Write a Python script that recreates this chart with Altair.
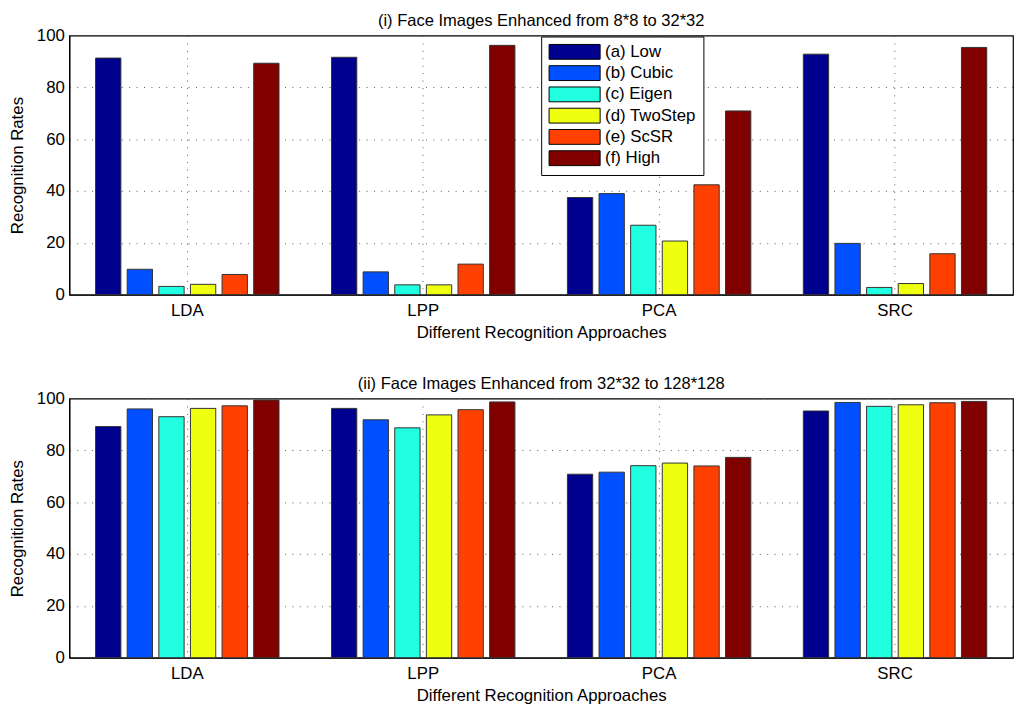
import altair as alt
import pandas as pd

approaches = ["LDA", "LPP", "PCA", "SRC"]
methods = ["(a) Low", "(b) Cubic", "(c) Eigen", "(d) TwoStep", "(e) ScSR", "(f) High"]
colors = ["#00008F", "#0050FF", "#20FFDF", "#EFFF10", "#FF4000", "#800000"]

# Panel (i): 8*8 -> 32*32, values per method over [LDA, LPP, PCA, SRC]
p1_low = [91.3, 91.6, 37.5, 92.8]
p1_cubic = [9.8, 8.8, 39.0, 19.8]
p1_eigen = [3.2, 3.8, 26.8, 2.8]
p1_twostep = [4.0, 3.8, 20.7, 4.3]
p1_scsr = [7.8, 11.8, 42.4, 15.8]
p1_high = [89.3, 96.2, 70.9, 95.4]

# Panel (ii): 32*32 -> 128*128
p2_low = [89.2, 96.2, 70.8, 95.2]
p2_cubic = [96.0, 91.8, 71.6, 98.5]
p2_eigen = [93.0, 88.7, 74.1, 97.0]
p2_twostep = [96.2, 93.7, 75.1, 97.6]
p2_scsr = [97.2, 95.7, 74.0, 98.4]
p2_high = [99.4, 98.7, 77.3, 98.9]

y_ticks = [0, 20, 40, 60, 80, 100]
title1 = "(i) Face Images Enhanced from 8*8 to 32*32"
title2 = "(ii) Face Images Enhanced from 32*32 to 128*128"

FONT = "Liberation Sans"
GRID = dict(gridDash=[1, 6.5], gridColor="#555555", gridOpacity=1, gridWidth=1)


def make_df(series):
    rows = []
    for m, vals in zip(methods, series):
        for a, v in zip(approaches, vals):
            rows.append({"approach": a, "method": m, "rate": v})
    return pd.DataFrame(rows)


def panel(series, title, show_legend):
    df = make_df(series)
    if show_legend:
        legend = alt.Legend(
            title=None,
            orient="none",
            legendX=477,
            legendY=1,
            symbolType="M-1,-1H5.88V1H-1Z",
            symbolSize=225,
            symbolStrokeColor="#000000",
            symbolStrokeWidth=1,
            symbolOpacity=1,
            labelFontSize=17,
            labelFont=FONT,
            labelColor="#000000",
            labelOffset=40.6,
            rowPadding=2.5,
            padding=7,
            strokeColor="#000000",
            fillColor="#FFFFFF",
            cornerRadius=0,
        )
    else:
        legend = None
    return (
        alt.Chart(df)
        .mark_bar(stroke="#333333", strokeWidth=1, opacity=1)
        .encode(
            x=alt.X(
                "approach:N",
                sort=approaches,
                scale=alt.Scale(paddingInner=0, paddingOuter=0),
                axis=alt.Axis(
                    title="Different Recognition Approaches",
                    labelAngle=0,
                    grid=True,
                    bandPosition=0.5,
                    ticks=False,
                    labelPadding=8,
                    titlePadding=6,
                    **GRID,
                ),
            ),
            xOffset=alt.XOffset(
                "method:N",
                sort=methods,
                scale=alt.Scale(paddingInner=0.2, paddingOuter=0.83),
            ),
            y=alt.Y(
                "rate:Q",
                scale=alt.Scale(domain=[0, 100], nice=False),
                axis=alt.Axis(
                    title="Recognition Rates",
                    values=y_ticks,
                    grid=True,
                    ticks=False,
                    labelPadding=5,
                    titlePadding=10,
                    **GRID,
                ),
            ),
            color=alt.Color(
                "method:N",
                sort=methods,
                scale=alt.Scale(domain=methods, range=colors),
                legend=legend,
            ),
        )
        .properties(
            width=954,
            height=262,
            title=alt.TitleParams(
                title, fontSize=16.7, fontWeight="normal", font=FONT, color="#000000", offset=-3
            ),
        )
    )


top = panel([p1_low, p1_cubic, p1_eigen, p1_twostep, p1_scsr, p1_high], title1, True)
bottom = panel([p2_low, p2_cubic, p2_eigen, p2_twostep, p2_scsr, p2_high], title2, False)

chart = (
    alt.vconcat(top, bottom, spacing=34)
    .resolve_legend(color="independent")
    .properties(padding=0, background="#FFFFFF")
    .configure_view(stroke="#000000", strokeWidth=1.2)
    .configure_axis(
        labelFont=FONT,
        titleFont=FONT,
        labelFontSize=17,
        titleFontSize=17,
        titleFontWeight="normal",
        labelColor="#000000",
        titleColor="#000000",
        domainColor="#000000",
        domainWidth=1.2,
    )
)

chart.save("out.html", embed_options={"renderer": "svg", "actions": False})
